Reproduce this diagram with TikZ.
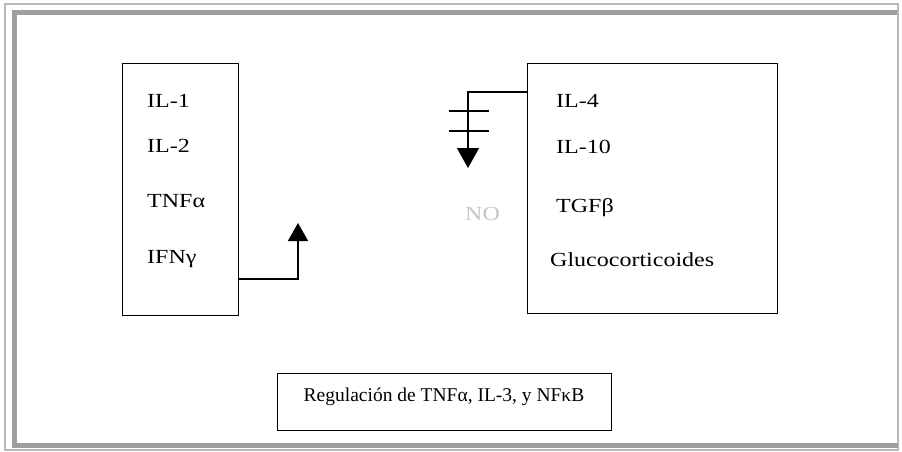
\documentclass[tikz,border=0pt]{standalone}
\usepackage{fontspec}
\setmainfont{Liberation Serif}
\newfontfamily\widefont[FakeStretch=1.2]{Liberation Serif}
\usetikzlibrary{arrows.meta}
\begin{document}
\begin{tikzpicture}[x=1pt,y=-1pt,
  box/.style={draw, line width=1.4pt, inner sep=0pt, anchor=north west},
  lbl/.style={anchor=base west, inner sep=0pt, font=\widefont\fontsize{20}{24}\selectfont},
  conn/.style={line width=1.3pt},
  tipup/.style={-{Triangle[width=20pt,length=18pt]}},
  tipdn/.style={-{Triangle[width=22pt,length=20pt]}},
  framethin/.style={draw=gray!55, line width=1.3pt},
  framethick/.style={draw=gray!75, line width=5pt}
]
\useasboundingbox (0,0) rectangle (902,452);
% frame
\draw[framethin] (5,450) -- (5,4) -- (898,4) -- (898,450) -- cycle;
\draw[framethick] (14.5,446) -- (14.5,12.5) -- (897,12.5);
\draw[framethick] (12,445.5) -- (898,445.5);

% left box
\node[box, minimum width=116pt, minimum height=252pt] (L) at (122,63) {};
\node[lbl] (l1) at (147,107) {IL-1};
\node[lbl] (l2) at (147,152) {IL-2};
\node[lbl] (l3) at (147,207) {TNFα};
\node[lbl] (l4) at (147,263) {IFNγ};

% right box
\node[box, minimum width=250pt, minimum height=250pt] (R) at (527,63) {};
\node[lbl] (r1) at (556,107) {IL-4};
\node[lbl] (r2) at (556,153) {IL-10};
\node[lbl] (r3) at (556,212) {TGFβ};
\node[lbl] (r4) at (550,266) {Glucocorticoides};

% NO
\node[lbl, text=gray!45] (no) at (465,220) {NO};

% bottom box
\node[box, minimum width=334pt, minimum height=57pt] (B) at (277,373) {};
\node[anchor=base, inner sep=0pt, font=\fontsize{19.5}{23}\selectfont] (bt) at (444,401) {Regulación de TNFα, IL-3, y NFκB};

% connectors
\coordinate (y1) at (0,279);
\coordinate (a1) at (298,223);
\draw[conn,tipup] (L.east |- y1) -| (a1);

\coordinate (y2) at (0,92);
\coordinate (a2) at (468,168);
\draw[conn,tipdn] (R.west |- y2) -| (a2);
\draw[conn] (449,111) -- (489,111);
\draw[conn] (449,131) -- (489,131);
\end{tikzpicture}
\end{document}
